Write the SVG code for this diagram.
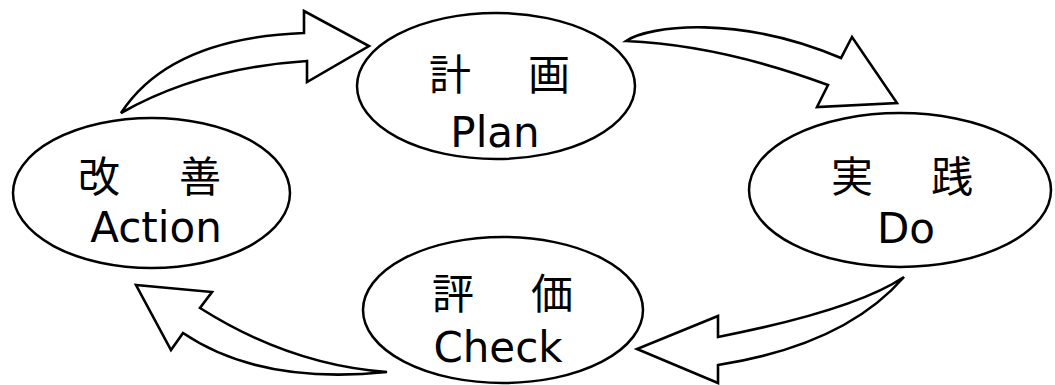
<svg xmlns="http://www.w3.org/2000/svg" width="1055" height="385" viewBox="0 0 1055 385">
<style>
.node ellipse{fill:#fff;stroke:#000;stroke-width:2.5}
.arrow{fill:#fff;stroke:#000;stroke-width:2.6;stroke-linejoin:miter}
.jp{font-family:'Noto Sans CJK JP','Noto Sans CJK SC',sans-serif;font-size:42px;fill:#000}
.en{font-family:'DejaVu Sans','Noto Sans',sans-serif;font-size:42px;fill:#000;text-anchor:middle}
</style>
<rect width="1055" height="385" fill="#fff"/>
<g id="connectors">
<path class="arrow" d="M121,113 Q170,38 304,33 L304,11 L369,46 L307,82 L307,61 Q200,68 121,113 Z"/>
<path class="arrow" d="M626,41 C650,25 740,15 841,58 L852,37 L897,103 L817,107 L828,85 Q720,45 626,41 Z"/>
<path class="arrow" d="M904,277 Q855,310 718,337 L718,316 L637,349 L718,383 L718,365 Q845,345 904,277 Z"/>
<path class="arrow" d="M387,372 Q290,365 200,308 L212,292 L136,285 L171,350 L183,333 Q260,385 387,372 Z"/>
</g>
<g id="plan" class="node">
<ellipse cx="496" cy="86" rx="139" ry="73"/>
<text class="jp" x="429 478 528" y="90">計　画</text>
<text class="en" x="495" y="147">Plan</text>
</g>
<g id="do" class="node">
<ellipse cx="900" cy="190" rx="151" ry="77"/>
<text class="jp" x="831 881 931" y="192">実　践</text>
<text class="en" x="906" y="243">Do</text>
</g>
<g id="check" class="node">
<ellipse cx="503" cy="310" rx="140" ry="73"/>
<text class="jp" x="432 482 531" y="309">評　価</text>
<text class="en" x="498" y="362">Check</text>
</g>
<g id="action" class="node">
<ellipse cx="151.5" cy="193" rx="138.5" ry="75"/>
<text class="jp" x="78 128 179" y="192">改　善</text>
<text class="en" x="156" y="242">Action</text>
</g>
</svg>
